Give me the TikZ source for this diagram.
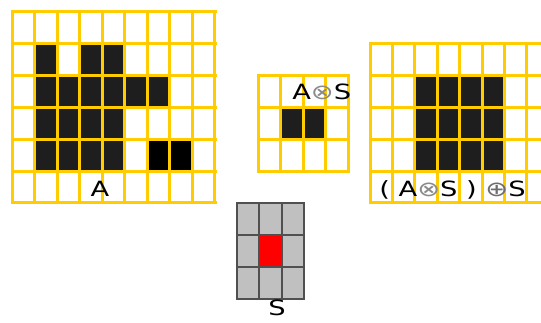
\documentclass[tikz,border=0pt]{standalone}
\usepackage{fontspec}
\setmainfont{DejaVu Sans}
\definecolor{gold}{HTML}{FFCC00}
\definecolor{darkcell}{HTML}{1E1E1E}
\definecolor{sgray}{HTML}{C0C0C0}
\definecolor{sline}{HTML}{505050}
\definecolor{opgray}{HTML}{8A8A8A}
\tikzset{
  gline/.style={draw=gold, line width=3pt, line cap=rect},
  sgline/.style={draw=sline, line width=2pt, line cap=rect},
  dcell/.style={fill=darkcell},
  bcell/.style={fill=black},
  lbl/.style={inner sep=0pt, font=\fontsize{21}{24}\selectfont, xscale=1.3},
}
\begin{document}
\begin{tikzpicture}[x=1pt,y=-1pt]
\useasboundingbox (0,0) rectangle (541,323);
\clip (0,0) rectangle (541,323);
% ---------- grid A ----------
\def\cw{22.55}\def\ch{31.83}
\foreach \c/\r in {1/1,3/1,4/1,1/2,2/2,3/2,4/2,5/2,6/2,1/3,2/3,3/3,4/3,1/4,2/4,3/4,4/4}
  \fill[dcell] ({12+\c*\cw},{12+\r*\ch}) rectangle ++(\cw,\ch);
\foreach \c/\r in {6/4,7/4}
  \fill[bcell] ({12+\c*\cw},{12+\r*\ch}) rectangle ++(\cw,\ch);
\foreach \i in {0,...,9} \draw[gline] ({12+\i*\cw},12) -- ({12+\i*\cw},203);
\foreach \j in {0,...,6} \draw[gline] (12,{12+\j*\ch}) -- (215,{12+\j*\ch});
\node[lbl, anchor=base] (la) at (100,197) {A};
% ---------- grid A erosion S ----------
\foreach \c/\r in {1/1,2/1}
  \fill[dcell] ({258+\c*22.5},{76+\r*32}) rectangle ++(22.5,32);
\foreach \i in {0,...,4} \draw[gline] ({258+\i*22.5},76) -- ({258+\i*22.5},172);
\foreach \j in {0,...,3} \draw[gline] (258,{76+\j*32}) -- (348,{76+\j*32});
\node[lbl, anchor=base west] (lero) at (292,100) {A{\color{opgray}⊗}S};
% ---------- grid opening ----------
\def\rw{22.4}\def\rh{31.8}
\foreach \c in {2,...,5} \foreach \r in {1,2,3}
  \fill[dcell] ({370+\c*\rw},{44+\r*\rh}) rectangle ++(\rw,\rh);
\foreach \i in {0,...,8} \draw[gline] ({370+\i*\rw},44) -- ({370+\i*\rw},203);
\foreach \j in {0,...,5} \draw[gline] (370,{44+\j*\rh}) -- (600,{44+\j*\rh});
\node[lbl, anchor=base west] (lopen) at (379,197) {( A{\color{opgray}⊗}S ) {\color{opgray!80!black}⊕}S};
% ---------- structuring element S ----------
\fill[sgray] (237,203) rectangle (304,299);
\fill[red] ({237+22.33},235) rectangle ({237+2*22.33},267);
\foreach \i in {0,...,3} \draw[sgline] ({237+\i*22.33},203) -- ({237+\i*22.33},299);
\foreach \j in {0,...,3} \draw[sgline] (237,{203+\j*32}) -- (304,{203+\j*32});
\node[lbl, anchor=base] (ls) at (277,316) {S};
\end{tikzpicture}
\end{document}
